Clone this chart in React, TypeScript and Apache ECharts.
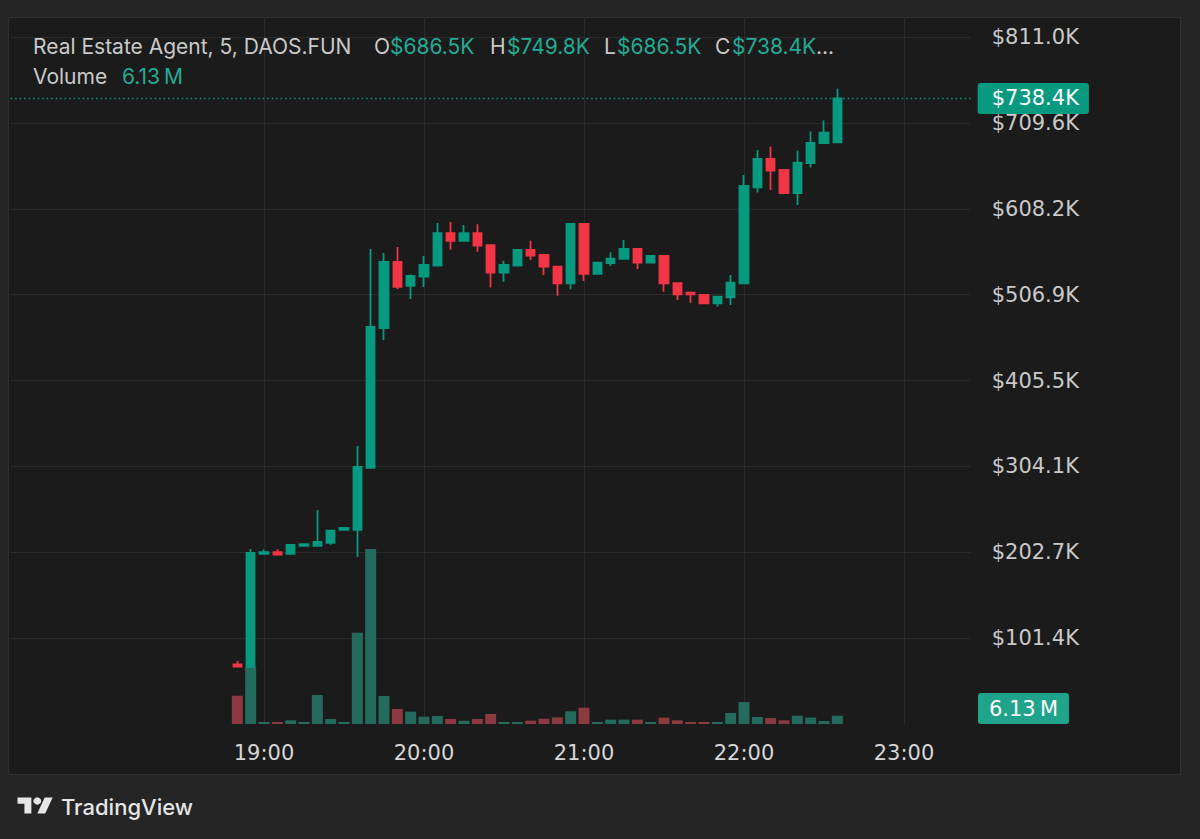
import React, { useEffect, useRef } from 'react';
import * as echarts from 'echarts';

// ---- data (prices in thousands of USD, volume in millions) ----
const TIMES = [
  '18:50', '18:55', '19:00', '19:05', '19:10', '19:15', '19:20', '19:25', '19:30', '19:35',
  '19:40', '19:45', '19:50', '19:55', '20:00', '20:05', '20:10', '20:15', '20:20', '20:25',
  '20:30', '20:35', '20:40', '20:45', '20:50', '20:55', '21:00', '21:05', '21:10', '21:15',
  '21:20', '21:25', '21:30', '21:35', '21:40', '21:45', '21:50', '21:55', '22:00', '22:05',
  '22:10', '22:15', '22:20', '22:25', '22:30', '22:35',
];
const OPEN = [
  70.5, 67.5, 201.0, 203.0, 200.8, 210.2, 210.4, 213.9, 229.1, 229.1,
  302.4, 467.5, 545.5, 517.2, 528.1, 541.2, 579.5, 570.4, 579.5, 565.2,
  532.9, 541.2, 559.8, 553.7, 539.9, 520.3, 590.3, 531.3, 544.0, 549.0,
  560.8, 544.6, 552.5, 520.3, 509.2, 506.5, 496.6, 503.7, 520.3, 633.6,
  667.1, 654.1, 626.6, 662.0, 685.7, 686.5,
];
const CLOSE = [
  67.7, 202.0, 203.0, 200.0, 211.4, 212.2, 214.9, 228.1, 231.4, 303.6,
  468.7, 545.5, 516.0, 529.0, 541.9, 579.5, 570.4, 579.5, 564.8, 532.9,
  541.9, 559.8, 553.0, 539.9, 520.3, 590.3, 531.3, 544.6, 549.3, 560.8,
  544.6, 552.5, 520.3, 507.3, 507.3, 496.6, 504.5, 521.0, 635.2, 667.1,
  653.3, 626.6, 662.7, 686.1, 698.2, 738.4,
];
const LOW = [
  67.7, 67.3, 200.5, 199.5, 200.2, 210.0, 209.8, 211.6, 228.5, 197.2,
  302.0, 453.3, 513.6, 501.8, 516.0, 540.5, 559.8, 569.8, 557.5, 515.2,
  522.2, 540.5, 547.8, 530.1, 505.6, 513.3, 523.0, 530.8, 540.8, 548.5,
  537.2, 544.0, 510.4, 500.6, 497.3, 496.0, 492.7, 494.7, 519.8, 627.3,
  630.4, 625.4, 612.8, 656.9, 685.0, 686.5,
];
const HIGH = [
  74.4, 206.6, 206.0, 206.3, 211.8, 212.5, 252.7, 228.5, 232.0, 328.3,
  560.8, 556.1, 563.2, 530.5, 552.5, 591.4, 592.6, 589.1, 590.0, 566.0,
  547.0, 560.5, 570.6, 555.0, 540.5, 591.0, 591.0, 545.2, 556.9, 571.4,
  561.5, 553.0, 553.0, 521.0, 509.8, 507.0, 505.0, 530.1, 648.1, 677.7,
  681.6, 655.0, 676.9, 699.4, 712.4, 749.8,
];
const VOLUME = [
  20.9, 42.1, 1.5, 1.5, 2.7, 1.5, 21.4, 3.7, 1.5, 67.4,
  129.3, 20.7, 11.1, 9.1, 5.4, 5.9, 3.7, 2.4, 3.7, 7.4,
  1.5, 1.5, 2.5, 3.9, 4.9, 9.4, 12.0, 1.5, 3.2, 3.2,
  3.2, 1.5, 4.7, 2.7, 1.5, 1.5, 1.5, 8.1, 16.2, 5.2,
  4.4, 2.7, 6.1, 4.7, 2.2, 6.13,
];
const AXIS_START = '17:25';
const AXIS_END = '23:25';
const TIME_LABELS = ['19:00', '20:00', '21:00', '22:00', '23:00'];
const PRICE_STEP = 101.37;
const PRICE_TICK_LABELS = ['$101.4K', '$202.7K', '$304.1K', '$405.5K', '$506.9K', '$608.2K', '$709.6K', '$811.0K'];
const PRICE_MAX = 834.6;
const VOLUME_MAX = 522;
const SYMBOL_TITLE = 'Real Estate Agent, 5, DAOS.FUN';

// ---- style ----
const FONT = "Inter, 'Noto Sans', 'DejaVu Sans', sans-serif";
const NUM_FONT = "'DejaVu Sans', Inter, sans-serif";
const UP = '#089981';
const DOWN = '#f23645';
const VOL_UP = '#246b5d';
const VOL_DOWN = '#8a3a40';
const GRID = '#2b2b2b';
const TEXT = '#c9c9c9';
const GREEN_TEXT = '#22ab94';

const toMin = (s: string) => {
  const [h, m] = s.split(':').map(Number);
  return h * 60 + m;
};
const fmtMin = (m: number) => `${String(Math.floor(m / 60)).padStart(2, '0')}:${String(m % 60).padStart(2, '0')}`;
const fmtPrice = (v: number) => `$${v.toFixed(1)}K`;
const fmtVol = (v: number) => `${v.toFixed(2)}\u2009M`;

function buildCategories() {
  const out: string[] = [];
  for (let m = toMin(AXIS_START); m <= toMin(AXIS_END); m += 5) out.push(fmtMin(m));
  return out;
}

function txt(id: string, x: number, y: number, text: string, fill: string, size = 21, weight: any = 400, family = FONT) {
  return {
    id,
    type: 'text',
    x,
    y,
    silent: true,
    style: {
      text,
      fill,
      fontSize: size,
      fontFamily: family,
      fontWeight: weight,
      align: 'left',
      textAlign: 'left',
      verticalAlign: 'middle',
      textVerticalAlign: 'middle',
    },
  };
}

function buildGraphic(volTagCenterY: number) {
  const last = TIMES.length - 1;
  const r1 = 46.5;
  const r2 = 76.5;
  const tagH = 31;
  const tagW = 91;
  return [
    txt('title', 33, r1, SYMBOL_TITLE, TEXT),
    txt('oL', 374, r1, 'O', TEXT),
    txt('oV', 390, r1, fmtPrice(OPEN[last]), GREEN_TEXT),
    txt('hL', 490, r1, 'H', TEXT),
    txt('hV', 507, r1, fmtPrice(HIGH[last]), GREEN_TEXT),
    txt('lL', 604, r1, 'L', TEXT),
    txt('lV', 617, r1, fmtPrice(LOW[last]), GREEN_TEXT),
    txt('cL', 715, r1, 'C', TEXT),
    txt('cV', 732, r1, fmtPrice(CLOSE[last]), GREEN_TEXT),
    txt('dots', 816, r1, '...', TEXT),
    txt('volL', 33, r2, 'Volume', TEXT),
    txt('volV', 122, r2, fmtVol(VOLUME[last]), GREEN_TEXT),
    {
      id: 'logo',
      type: 'group',
      x: 17.5,
      y: 793.8,
      scaleX: 0.99,
      scaleY: 0.9,
      silent: true,
      children: [
        { type: 'polygon', shape: { points: [[14, 22], [7, 22], [7, 11], [0, 11], [0, 4], [14, 4]] }, style: { fill: '#e6e6e6' } },
        { type: 'polygon', shape: { points: [[28, 22], [20, 22], [27.5, 4], [35.5, 4]] }, style: { fill: '#e6e6e6' } },
        { type: 'circle', shape: { cx: 20, cy: 8, r: 4 }, style: { fill: '#e6e6e6' } },
      ],
    },
    txt('tv', 61, 807, 'TradingView', '#e6e6e6', 22, 500),
    {
      id: 'volTag',
      type: 'group',
      x: 978,
      y: volTagCenterY - tagH / 2,
      silent: true,
      children: [
        { type: 'rect', shape: { x: 0, y: 0, width: tagW, height: tagH, r: 3 }, style: { fill: '#1fa38b' } },
        {
          type: 'text',
          x: tagW / 2,
          y: tagH / 2,
          style: {
            text: fmtVol(VOLUME[last]),
            fill: '#ffffff',
            fontSize: 21,
            fontFamily: NUM_FONT,
            align: 'center',
            textAlign: 'center',
            verticalAlign: 'middle',
            textVerticalAlign: 'middle',
          },
        },
      ],
    },
  ];
}

function buildOption() {
  const cats = buildCategories();
  const last = TIMES.length - 1;
  const candle = cats.map((c) => {
    const i = TIMES.indexOf(c);
    return i < 0 ? '-' : [OPEN[i], CLOSE[i], LOW[i], HIGH[i]];
  });
  const vol = cats.map((c) => {
    const i = TIMES.indexOf(c);
    if (i < 0) return '-';
    return { value: VOLUME[i], itemStyle: { color: CLOSE[i] >= OPEN[i] ? VOL_UP : VOL_DOWN } };
  });
  const showTime = (_: number, v: string) => TIME_LABELS.includes(v);

  return {
    animation: false,
    backgroundColor: 'transparent',
    textStyle: { fontFamily: FONT },
    grid: { left: 10.667, right: 229.333, top: 17, bottom: 115, containLabel: false },
    xAxis: {
      type: 'category',
      data: cats,
      boundaryGap: false,
      axisLine: { show: false },
      axisTick: { show: false },
      axisLabel: {
        interval: showTime,
        color: '#d6d6d6',
        fontSize: 21,
        fontWeight: 400,
        fontFamily: NUM_FONT,
        margin: 18,
      },
      splitLine: { show: true, interval: showTime, lineStyle: { color: GRID, width: 1 } },
    },
    yAxis: [
      {
        type: 'value',
        position: 'right',
        min: 0,
        max: PRICE_MAX,
        interval: PRICE_STEP,
        axisLine: { show: false },
        axisTick: { show: false },
        axisLabel: {
          color: TEXT,
          fontSize: 21,
          fontFamily: NUM_FONT,
          margin: 21,
          formatter: (v: number) => {
            const k = Math.round(v / PRICE_STEP);
            if (k < 1 || k > PRICE_TICK_LABELS.length) return '';
            if (Math.abs(v - k * PRICE_STEP) > 0.5) return '';
            return PRICE_TICK_LABELS[k - 1];
          },
        },
        splitLine: { show: true, showMinLine: false, showMaxLine: false, lineStyle: { color: GRID, width: 1 } },
      },
      {
        type: 'value',
        min: 0,
        max: VOLUME_MAX,
        show: false,
        splitLine: { show: false },
      },
    ],
    series: [
      {
        type: 'bar',
        name: 'Volume',
        yAxisIndex: 1,
        data: vol,
        barWidth: 11,
        z: 1,
        silent: true,
      },
      {
        type: 'candlestick',
        name: 'Price',
        data: candle,
        barWidth: 9,
        z: 3,
        silent: true,
        itemStyle: {
          color: UP,
          color0: DOWN,
          borderColor: UP,
          borderColor0: DOWN,
          borderWidth: 1.8,
        },
        markLine: {
          silent: true,
          symbol: 'none',
          animation: false,
          data: [{ yAxis: CLOSE[last] }],
          lineStyle: { type: [1.5, 3], color: UP, width: 1.3 },
          label: {
            show: true,
            position: 'end',
            distance: 7,
            formatter: () => fmtPrice(CLOSE[last]),
            color: '#ffffff',
            backgroundColor: UP,
            borderRadius: 3,
            padding: [5, 10, 5, 14],
            fontSize: 21,
            fontFamily: NUM_FONT,
          },
        },
      },
    ],
  };
}

export default function App() {
  const ref = useRef<HTMLDivElement>(null);
  useEffect(() => {
    const el = ref.current;
    if (!el) return;
    const chart = echarts.init(el, null, { renderer: 'svg' });
    chart.setOption(buildOption() as any);
    const last = VOLUME.length - 1;
    let cy = 709.5;
    try {
      const yPix = Number(chart.convertToPixel({ yAxisIndex: 1 } as any, VOLUME[last]));
      const yBase = Number(chart.convertToPixel({ yAxisIndex: 1 } as any, 0));
      if (isFinite(yPix) && isFinite(yBase)) cy = Math.min(yPix, yBase - 15.5);
    } catch (e) {
      /* keep default */
    }
    chart.setOption({ graphic: buildGraphic(cy) } as any);
    return () => chart.dispose();
  }, []);

  return (
    <div style={{ position: 'fixed', left: 0, top: 0, width: 1200, height: 839, background: '#252525', overflow: 'hidden' }}>
      <div
        style={{
          position: 'absolute',
          left: 8,
          top: 17,
          width: 1171,
          height: 756,
          background: '#1b1b1b',
          border: '1px solid #303030',
        }}
      />
      <div ref={ref} style={{ position: 'absolute', left: 0, top: 0, width: 1200, height: 839 }} />
    </div>
  );
}
